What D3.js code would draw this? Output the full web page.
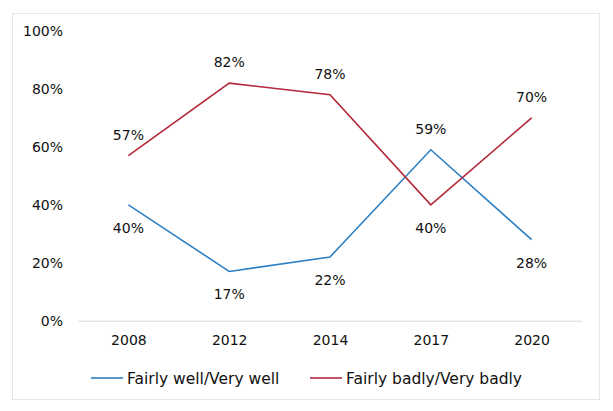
<!DOCTYPE html>
<html>
<head>
<meta charset="utf-8">
<script src="https://cdn.jsdelivr.net/npm/d3@7"></script>
<style>
  body { margin: 0; background: #fff; }
  text { font-family: "DejaVu Sans", sans-serif; fill: #111; }
</style>
</head>
<body>
<div id="chart"></div>
<script>
var years = ["2008", "2012", "2014", "2017", "2020"];
var wellValues = [40, 17, 22, 59, 28];
var badlyValues = [57, 82, 78, 40, 70];
var yTicks = [0, 20, 40, 60, 80, 100];
// label above (-1) or below (+1) each point
var wellLabelPos = [1, 1, 1, -1, 1];
var badlyLabelPos = [-1, -1, -1, 1, -1];

var svgWidth = 613;
var svgHeight = 411;

var margin = { top: 31, right: 31, bottom: 90, left: 78 };
var width = 582 - margin.left;
var height = 320.7 - margin.top;

var svg = d3.select("#chart")
  .append("svg")
  .attr("width", svgWidth)
  .attr("height", svgHeight);

// outer frame
svg.append("rect")
  .attr("x", 12.5)
  .attr("y", 13.5)
  .attr("width", 587)
  .attr("height", 386)
  .attr("fill", "#fff")
  .attr("stroke", "#e6e6e6");

var chartGroup = svg.append("g")
  .attr("transform", `translate(${margin.left}, ${margin.top})`);

var xScale = d3.scalePoint()
  .domain(years)
  .range([0, width])
  .padding(0.5);

var yScale = d3.scaleLinear()
  .domain([0, 100])
  .range([height, 0]);

var leftAxis = d3.axisLeft(yScale)
  .tickValues(yTicks)
  .tickSize(0)
  .tickPadding(15)
  .tickFormat(d => d + "%");

var yAxis = chartGroup.append("g").call(leftAxis);
yAxis.select(".domain").remove();
yAxis.selectAll("text").attr("font-size", "14px").attr("fill", "#111");

var bottomAxis = d3.axisBottom(xScale).tickSize(0).tickPadding(14);
var xAxis = chartGroup.append("g")
  .attr("transform", `translate(0, ${height})`)
  .call(bottomAxis);
xAxis.select(".domain").attr("stroke", "#d9d9d9").attr("stroke-width", 1);
xAxis.selectAll("text").attr("font-size", "14px").attr("fill", "#111");

var series = [
  { name: "Fairly well/Very well", values: wellValues, pos: wellLabelPos, color: "#2e80c3" },
  { name: "Fairly badly/Very badly", values: badlyValues, pos: badlyLabelPos, color: "#b3283a" }
];

var line = d3.line()
  .x((d, i) => xScale(years[i]))
  .y(d => yScale(d));

series.forEach(function(s) {
  chartGroup.append("path")
    .datum(s.values)
    .attr("fill", "none")
    .attr("stroke", s.color)
    .attr("stroke-width", 1.6)
    .attr("d", line);

  chartGroup.selectAll(null)
    .data(s.values)
    .enter()
    .append("text")
    .attr("x", (d, i) => xScale(years[i]))
    .attr("y", (d, i) => yScale(d) + (s.pos[i] < 0 ? -16 : 28))
    .attr("text-anchor", "middle")
    .attr("font-size", "14px")
    .text(d => d + "%");
});

// legend
var legend = svg.append("g").attr("transform", "translate(0, 378)");
var legendX = [91, 310];
series.forEach(function(s, i) {
  legend.append("line")
    .attr("x1", legendX[i])
    .attr("x2", legendX[i] + 32)
    .attr("stroke", s.color)
    .attr("stroke-width", 1.6);
  legend.append("text")
    .attr("x", legendX[i] + 36)
    .attr("y", 5.5)
    .attr("font-size", "15.5px")
    .text(s.name);
});
</script>
</body>
</html>
